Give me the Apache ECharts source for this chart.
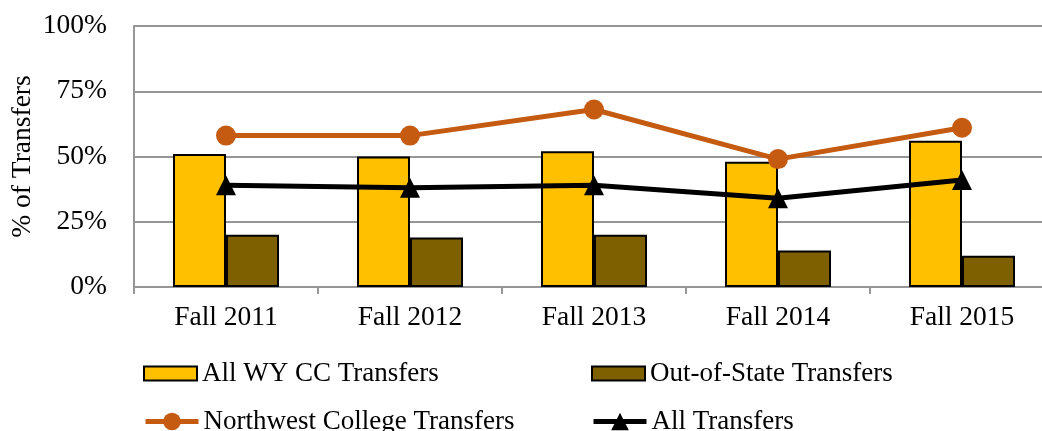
<!DOCTYPE html>
<html lang="en">
<head>
    <meta charset="UTF-8">
    <title>% of Transfers</title>
    <script src="https://cdn.jsdelivr.net/npm/echarts@6.0.0/dist/echarts.min.js"></script>
    <style>
        html, body { margin: 0; padding: 0; background: #fff; }
        #chart { width: 1042px; height: 431px; }
    </style>
</head>
<body>
    <div id="chart"></div>
    <script>
        // data
        var terms = ['Fall 2011', 'Fall 2012', 'Fall 2013', 'Fall 2014', 'Fall 2015'];
        var wyccTransfers = [51, 50, 52, 48, 56];
        var outOfState = [20, 19, 20, 14, 12];
        var northwest = [58, 58, 68, 49, 61];
        var allTransfers = [39, 38, 39, 34, 41];
        var seriesNames = ['All WY CC Transfers', 'Out-of-State Transfers', 'Northwest College Transfers', 'All Transfers'];

        var font = 'Liberation Serif, Times New Roman, serif';
        var fs = 27.5;

        // one legend per item, laid out in two rows like the original
        var legendSpots = [[143, 374], [591, 374], [143, 422], [591, 422]];

        function legendAt(i) {
            var isBar = i < 2;
            var h = isBar ? 14 : 22;
            var lg = {
                data: [{ name: seriesNames[i] }],
                left: legendSpots[i][0],
                top: legendSpots[i][1] - 14,
                padding: 0,
                itemWidth: 53,
                itemHeight: h,
                itemGap: 0,
                textStyle: { fontFamily: font, fontSize: 27, color: '#000', padding: [2, 0, 0, 0] }
            };
            if (isBar) lg.data[0].icon = 'rect';
            else lg.lineStyle = { width: 5 };
            return lg;
        }

        var chart = echarts.init(document.getElementById('chart'));
        chart.setOption({
            animation: false,
            grid: { left: 134, right: -12, top: 26, bottom: 144, outerBoundsMode: 'none' },
            legend: [0, 1, 2, 3].map(legendAt),
            xAxis: {
                type: 'category',
                data: terms,
                axisLine: { lineStyle: { color: '#969696', width: 2 } },
                axisTick: { show: true, length: 7, lineStyle: { color: '#969696', width: 2 } },
                axisLabel: { fontFamily: font, fontSize: fs, color: '#000', margin: 17 }
            },
            yAxis: {
                type: 'value',
                min: 0,
                max: 100,
                interval: 25,
                name: '% of Transfers',
                nameLocation: 'middle',
                nameGap: 97,
                nameMoveOverlap: false,
                nameRotate: 90,
                nameTextStyle: { fontFamily: font, fontSize: fs, color: '#000' },
                axisLine: { show: true, lineStyle: { color: '#969696', width: 2 } },
                axisTick: { show: false },
                splitLine: { lineStyle: { color: '#969696', width: 2 } },
                axisLabel: { fontFamily: font, fontSize: fs, color: '#000', margin: 27, formatter: '{value}%' }
            },
            series: [
                {
                    name: seriesNames[0],
                    type: 'bar',
                    data: wyccTransfers,
                    barWidth: 53,
                    barGap: '0%',
                    itemStyle: { color: '#FFC000', borderColor: '#000', borderWidth: 2 }
                },
                {
                    name: seriesNames[1],
                    type: 'bar',
                    data: outOfState,
                    barWidth: 53,
                    barGap: '0%',
                    itemStyle: { color: '#7F6000', borderColor: '#000', borderWidth: 2 }
                },
                {
                    name: seriesNames[2],
                    type: 'line',
                    data: northwest,
                    symbol: 'circle',
                    symbolSize: 20,
                    lineStyle: { color: '#C55A11', width: 5 },
                    itemStyle: { color: '#C55A11' }
                },
                {
                    name: seriesNames[3],
                    type: 'line',
                    data: allTransfers,
                    symbol: 'triangle',
                    symbolSize: 20,
                    lineStyle: { color: '#000', width: 5 },
                    itemStyle: { color: '#000' }
                }
            ]
        });
    </script>
</body>
</html>
